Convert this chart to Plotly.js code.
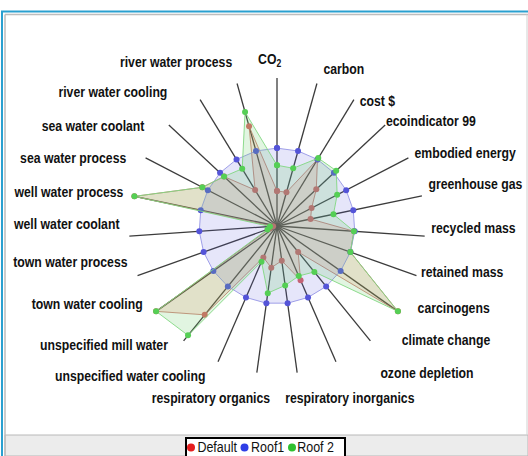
<!DOCTYPE html>
<html>
<head>
<meta charset="utf-8">
<script src="https://cdn.plot.ly/plotly-3.0.1.min.js"></script>
<style>html,body{margin:0;padding:0;background:#fff;}#chart{width:528px;height:456px;}</style>
</head>
<body>
<div id="chart"></div>
<script>
// ---- data ----
const categories = ['CO<sub>2</sub>', 'carbon', 'cost $', 'ecoindicator 99', 'embodied energy',
  'greenhouse gas', 'recycled mass', 'retained mass', 'carcinogens', 'climate change',
  'ozone depletion', 'respiratory inorganics', 'respiratory organics', 'unspecified water cooling',
  'unspecified mill water', 'town water cooling', 'town water process', 'well water coolant',
  'well water process', 'sea water process', 'sea water coolant', 'river water cooling',
  'river water process'];
const seriesNames = ['Default', 'Roof1', 'Roof 2'];
const defaultValues = [0.45, 0.45, 1.0, 0.69, 0.50, 0.44, 0.99, 1.0, 1.9, 0.43, 0.76, 0.45, 0.54,
  0.44, 1.47, 1.9, 0.10, 0.05, 1.87, 1.08, 0.93, 0.54, 1.33];
const roof1Values = [1, 1, 1, 1, 1, 1, 1, 1, 1, 1, 1, 1, 1, 1, 1, 1, 1, 1, 1, 1, 1, 1, 1];
const roof2Values = [0.78, 0.77, 1.02, 1.04, 0.87, 0.74, 0.99, 1.0, 1.9, 0.76, 0.70, 0.77, 0.87,
  0.50, 1.81, 1.9, 0.13, 0.09, 1.87, 1.08, 0.93, 0.86, 1.52];

// ---- styling / layout constants ----
const styles = [
  {marker: '#d86464', line: 'rgba(200,110,100,0.8)', fill: 'rgba(255,100,70,0.16)', legend: '#e41e1e'},
  {marker: '#5454d8', line: 'rgba(150,150,230,0.9)', fill: 'rgba(88,88,222,0.15)', legend: '#2e3ee6'},
  {marker: '#55cf55', line: 'rgba(130,215,130,0.9)', fill: 'rgba(105,205,105,0.20)', legend: '#2fc02f'}
];
// label centre positions in page pixels (layout only)
const labelPos = [[269, 60], [344, 68], [377, 100], [431, 120], [465, 152], [475, 183],
  [473, 227], [462, 271], [453, 307], [446, 339], [427, 372], [350, 397], [211, 397],
  [130, 375], [104, 344], [87, 303], [70, 261], [66, 223], [68, 191], [73, 158],
  [93, 125], [113, 92], [176, 62]];
// legend item layout: dot centre x, text centre x (page pixels)
const legendDotX = [191, 244.5, 292];
const legendTextX = [216.5, 267.7, 315.5];
const legendY = 447;

const FONT = 'Liberation Sans, Arial, sans-serif';
const W = 528, H = 456;
const px = x => x / W;
const py = y => (H - y) / H;
const cx = 277, cy = 226, R = 148;

const allValues = [defaultValues, roof1Values, roof2Values];
const closedTheta = categories.concat([categories[0]]);

const traces = allValues.map((vals, i) => ({
  type: 'scatterpolar',
  r: vals.concat([vals[0]]),
  theta: closedTheta,
  name: seriesNames[i],
  mode: 'lines+markers',
  fill: 'toself',
  fillcolor: styles[i].fill,
  line: {color: styles[i].line, width: 1},
  marker: {color: styles[i].marker, size: 6},
  showlegend: false,
  hoverinfo: 'skip'
}));

const labelAnnotations = categories.map((c, i) => ({
  xref: 'paper', yref: 'paper', x: px(labelPos[i][0]), y: py(labelPos[i][1]),
  xanchor: 'center', yanchor: 'middle', showarrow: false, text: c,
  font: {family: FONT, size: 15.5, weight: 'bold', color: '#111'}
}));
const legendAnnotations = seriesNames.map((n, i) => ({
  xref: 'paper', yref: 'paper', x: px(legendTextX[i]), y: py(legendY), xanchor: 'center',
  yanchor: 'middle', showarrow: false, text: n,
  font: {family: FONT, size: 14, color: '#111'}
}));

const frameShapes = [
  {type: 'rect', xref: 'paper', yref: 'paper', x0: px(5), x1: px(528), y0: py(456), y1: py(435),
    fillcolor: '#ececec', line: {color: '#b8b8b8', width: 1}, layer: 'below'},
  {type: 'line', xref: 'paper', yref: 'paper', x0: px(5), x1: px(528), y0: py(14.5), y1: py(14.5),
    line: {color: '#bdbdbd', width: 1.5}},
  {type: 'line', xref: 'paper', yref: 'paper', x0: px(5), x1: px(5), y0: py(14.5), y1: py(456),
    line: {color: '#bdbdbd', width: 1.5}},
  {type: 'line', xref: 'paper', yref: 'paper', x0: px(527), x1: px(527), y0: py(14.5), y1: py(435),
    line: {color: '#d0d0d0', width: 1}},
  {type: 'line', xref: 'paper', yref: 'paper', x0: px(1), x1: px(528), y0: py(11.5), y1: py(11.5),
    line: {color: '#2aa0d0', width: 2}},
  {type: 'line', xref: 'paper', yref: 'paper', x0: px(2), x1: px(2), y0: py(11), y1: py(456),
    line: {color: '#2aa0d0', width: 2}},
  {type: 'rect', xref: 'paper', yref: 'paper', x0: px(186), x1: px(345), y0: py(462), y1: py(438),
    fillcolor: '#ffffff', line: {color: '#000000', width: 2}}
];
const legendDots = legendDotX.map((x, i) => ({
  type: 'circle', xref: 'paper', yref: 'paper', x0: px(x - 4), x1: px(x + 4),
  y0: py(legendY + 4.5), y1: py(legendY - 3.5),
  fillcolor: styles[i].legend, line: {width: 0}
}));

const layout = {
  width: W, height: H,
  margin: {l: 0, r: 0, t: 0, b: 0},
  paper_bgcolor: '#ffffff',
  showlegend: false,
  font: {family: FONT, color: '#111'},
  polar: {
    domain: {x: [px(cx - R), px(cx + R)], y: [py(cy + R), py(cy - R)]},
    bgcolor: 'rgba(0,0,0,0)',
    radialaxis: {range: [0, 1.9], visible: false, showgrid: false, showline: false, showticklabels: false, ticks: ''},
    angularaxis: {
      rotation: 90, direction: 'clockwise', showline: false,
      gridcolor: '#3c3c3c', gridwidth: 1.3,
      ticks: '', showticklabels: false
    }
  },
  shapes: frameShapes.concat(legendDots),
  annotations: labelAnnotations.concat(legendAnnotations)
};

Plotly.newPlot('chart', traces, layout, {staticPlot: true, displayModeBar: false}).then(gd => {
  // narrow (condensed) look for the text, like the reference's narrow face
  gd.querySelectorAll('g.annotation').forEach(g => {
    const idx = +g.getAttribute('data-index');
    const t = g.querySelector('text.annotation-text');
    if (!t) return;
    const factor = idx < categories.length ? 0.79 : 0.89;
    const w = t.getComputedTextLength();
    t.setAttribute('textLength', (w * factor).toFixed(1));
    t.setAttribute('lengthAdjust', 'spacingAndGlyphs');
  });
});
</script>
</body>
</html>
